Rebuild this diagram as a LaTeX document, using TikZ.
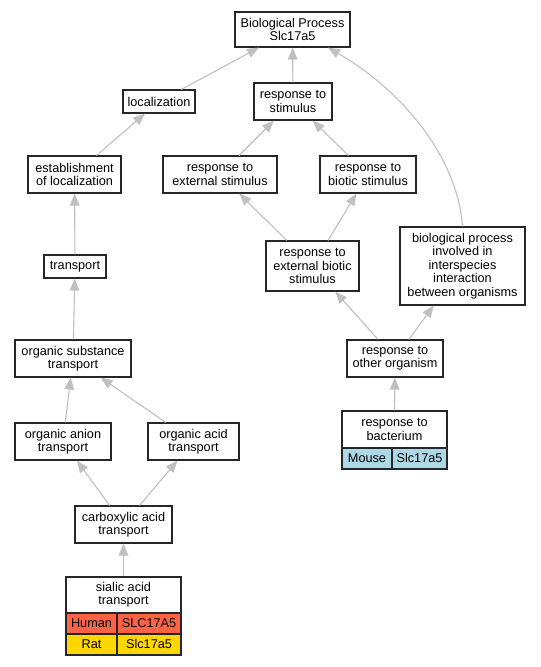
\documentclass[tikz,border=0pt]{standalone}
\usepackage{fontspec}
\setmainfont{Liberation Sans}
\usetikzlibrary{arrows.meta}
\definecolor{edgegray}{HTML}{C0C0C0}
\definecolor{human}{HTML}{FF6347}
\definecolor{rat}{HTML}{FFD700}
\definecolor{mouse}{HTML}{ADD8E6}
\begin{document}
\begin{tikzpicture}[x=1pt,y=-1pt,
  box/.style={draw=black!85, line width=1.1pt, inner sep=0pt, align=center,
    font=\fontsize{12.7}{13.4}\selectfont},
  cell/.style={draw=black!85, line width=1.1pt, inner sep=0pt,
    font=\fontsize{12.7}{13.4}\selectfont, text height=8pt, text depth=0pt},
  edge/.style={draw=edgegray, line width=1.1pt, -{Triangle[length=12pt,width=9.5pt]}}]
\useasboundingbox (0,0) rectangle (541,667);
\fill[white] (0,0) rectangle (541,667);
\node[box, minimum width=115pt, minimum height=35pt] (bp) at (292.5,29.5) {Biological Process\\Slc17a5};
\node[box, minimum width=72pt, minimum height=23pt] (loc) at (159,101.5) {localization};
\node[box, minimum width=78pt, minimum height=37pt] (stim) at (293,101.5) {response to\\stimulus};
\node[box, minimum width=93pt, minimum height=37pt] (estab) at (74.5,174.5) {establishment\\of localization};
\node[box, minimum width=114pt, minimum height=37pt] (extstim) at (220,174.5) {response to\\external stimulus};
\node[box, minimum width=96pt, minimum height=37pt] (biotic) at (368,174.5) {response to\\biotic stimulus};
\node[box, minimum width=62pt, minimum height=23pt] (transport) at (75,266.5) {transport};
\node[box, minimum width=93pt, minimum height=50pt] (extbiotic) at (312.5,266) {response to\\external biotic\\stimulus};
\node[box, minimum width=125pt, minimum height=78pt] (inter) at (462.5,266) {biological process\\involved in\\interspecies\\interaction\\between organisms};
\node[box, minimum width=116pt, minimum height=37pt] (orgsub) at (73,358.5) {organic substance\\transport};
\node[box, minimum width=96pt, minimum height=37pt] (other) at (395,358.5) {response to\\other organism};
\node[box, minimum width=96pt, minimum height=37pt] (anion) at (63,441.5) {organic anion\\transport};
\node[box, minimum width=91pt, minimum height=37pt] (acid) at (193.5,441.5) {organic acid\\transport};
\node[box, minimum width=97pt, minimum height=37pt] (carbox) at (123.5,524.5) {carboxylic acid\\transport};
% sialic acid table
\node[box, minimum width=115pt, minimum height=36pt] (sialic) at (123.5,595) {sialic acid\\transport};
\node[cell, fill=human, minimum width=51pt, minimum height=21pt] (human) at (91.5,623.5) {Human};
\node[cell, fill=human, minimum width=64pt, minimum height=21pt] (humang) at (149,623.5) {SLC17A5};
\node[cell, fill=rat, minimum width=51pt, minimum height=21pt] (rat) at (91.5,644.5) {Rat};
\node[cell, fill=rat, minimum width=64pt, minimum height=21pt] (ratg) at (149,644.5) {Slc17a5};
% bacterium table
\node[box, minimum width=105pt, minimum height=37pt] (bact) at (394.5,429.5) {response to\\bacterium};
\node[cell, fill=mouse, minimum width=50pt, minimum height=21pt] (mouse) at (367,458.5) {Mouse};
\node[cell, fill=mouse, minimum width=55pt, minimum height=21pt] (mouseg) at (419.5,458.5) {Slc17a5};
% edges
\coordinate (bptip) at (328,47.6);
\draw[edge] (loc) -- (bp);
\draw[edge] (stim) -- (bp);
\draw[edge] (inter.north) .. controls (458,160) and (405,92) .. (bptip);
\draw[edge] (estab) -- (loc);
\draw[edge] (transport) -- (estab);
\draw[edge] (orgsub) -- (transport);
\draw[edge] (anion) -- (orgsub);
\draw[edge] (acid) -- (orgsub);
\draw[edge] (carbox) -- (anion);
\draw[edge] (carbox) -- (acid);
\draw[edge] (sialic) -- (carbox);
\draw[edge] (extstim) -- (stim);
\draw[edge] (biotic) -- (stim);
\draw[edge] (extbiotic) -- (extstim);
\draw[edge] (extbiotic) -- (biotic);
\draw[edge] (other) -- (extbiotic);
\draw[edge] (other) -- (inter);
\draw[edge] (bact) -- (other);
\end{tikzpicture}
\end{document}
